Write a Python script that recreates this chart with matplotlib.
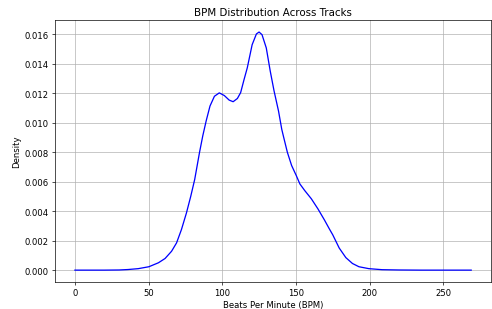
import matplotlib
matplotlib.use("Agg")
import matplotlib.pyplot as plt

bpm = [0, 10, 20, 30, 36, 43, 50.2, 56.7, 61.2, 65.6, 69, 72.3, 75.7, 78.6, 81.3,
       84.6, 86.8, 89.1, 91.7, 94.7, 98, 101.4, 104.7, 107.4, 110.3, 112.5, 114.8,
       117, 120.3, 123.2, 125, 127, 129.9, 132.6, 135.2, 138.2, 140.4, 141.5, 144.2,
       147.1, 150.2, 152.7, 156, 160.5, 165, 169.4, 172.7, 175, 179.4, 183.9, 188.4,
       192.8, 199.5, 208.5, 220, 235, 250, 269]
density = [0, 0, 0, 0.00001, 0.00004, 0.0001, 0.00023, 0.0005, 0.00079, 0.00128,
           0.00185, 0.00275, 0.00388, 0.0050, 0.00615, 0.0080, 0.00912, 0.01013,
           0.01114, 0.0118, 0.01203, 0.01185, 0.01154, 0.01143, 0.01165, 0.01205,
           0.01293, 0.01373, 0.0153, 0.01603, 0.01616, 0.01598, 0.01508, 0.0135,
           0.01215, 0.0108, 0.00956, 0.0091, 0.0080, 0.0071, 0.00643, 0.00585,
           0.0054, 0.00484, 0.00415, 0.0034, 0.0028, 0.0024, 0.0015, 0.00085,
           0.00045, 0.00023, 0.0001, 0.00003, 0.00001, 0, 0, 0]

fig = plt.figure(figsize=(8, 5.04), dpi=61.5)
ax = fig.add_axes([0.112, 0.087, 0.886, 0.845])
ax.plot(bpm, density, color="blue", linewidth=1.5)
ax.set_title("BPM Distribution Across Tracks", fontsize=12)
ax.set_xlabel("Beats Per Minute (BPM)")
ax.set_ylabel("Density")
ax.grid(True)
ax.set_xticks([0, 50, 100, 150, 200, 250])
ax.set_yticks([0.000, 0.002, 0.004, 0.006, 0.008, 0.010, 0.012, 0.014, 0.016])
fig.savefig("out.png", dpi=61.5)
